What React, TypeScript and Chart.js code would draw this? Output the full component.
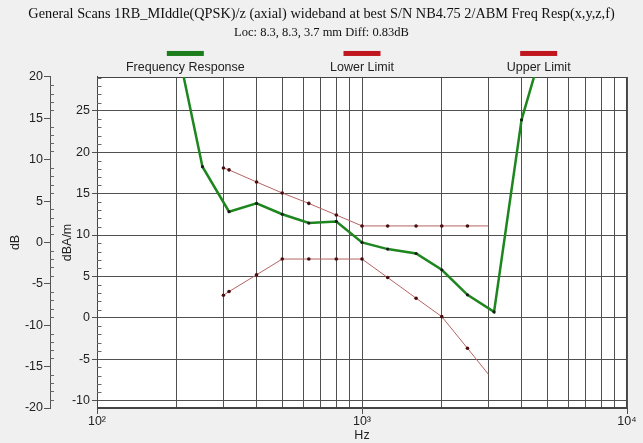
import React, { useEffect, useRef } from 'react';
import { Chart, registerables } from 'chart.js';

Chart.register(...registerables);

// ---------- text ----------
const TITLE = 'General Scans 1RB_MIddle(QPSK)/z (axial) wideband at best S/N NB4.75 2/ABM Freq Resp(x,y,z,f)';
const SUBTITLE = 'Loc: 8.3, 8.3, 3.7 mm Diff: 0.83dB';
const SERIES_LABELS = ['Frequency Response', 'Lower Limit', 'Upper Limit'];
const X_TITLE = 'Hz';
const Y_TITLE = 'dB';
const Y2_TITLE = 'dBA/m';

// ---------- data (dB vs Hz) ----------
const responseFreqs = [200, 250, 315, 400, 500, 630, 800, 1000, 1250, 1600, 2000, 2500, 3150, 4000, 5000];
const responseDb = [24, 9.16, 3.72, 4.72, 3.41, 2.35, 2.54, 0.0, -0.8, -1.33, -3.3, -6.33, -8.39, 14.82, 25.5];

const limitFreqs = [300, 315, 400, 500, 630, 800, 1000, 1250, 1600, 2000, 2500, 3000];
const lowerLimitDb = [-6.37, -5.93, -3.91, -2, -2, -2, -2, -4.24, -6.73, -8.96, -12.78, -15.93];
const upperLimitDb = [9.0, 8.77, 7.31, 5.98, 4.72, 3.32, 2, 2, 2, 2, 2, 2];

// ---------- axes ----------
const X_MIN = 100;
const X_MAX = 10000;
const X_GRID_VALUES = [100, 200, 300, 400, 500, 600, 700, 800, 900, 1000, 2000, 3000, 4000, 5000, 6000, 7000, 8000, 9000, 10000];
const X_TICK_LABELS: Record<number, string> = { 100: '10\u00B2', 1000: '10\u00B3', 10000: '10\u2074' };

const DB_MIN = -20;
const DB_MAX = 20;
const DB_TICKS = [-20, -15, -10, -5, 0, 5, 10, 15, 20];

const DBA_MIN = -10.9;
const DBA_MAX = 29.1;
const DBA_TICKS = [-10, -5, 0, 5, 10, 15, 20, 25];

// ---------- style ----------
const SANS = '"Liberation Sans", Arial, sans-serif';
const SERIF = '"Liberation Serif", "Times New Roman", serif';
const LEGEND_COLORS = ['#1b7d1b', '#c0161e', '#c0161e'];
const GRID = '#505050';
const TEXT = '#222222';

const bgPlugin = {
  id: 'bgPlugin',
  beforeDraw(chart: any) {
    const { ctx, chartArea, width, height } = chart;
    ctx.save();
    ctx.fillStyle = '#f0f0f0';
    ctx.fillRect(0, 0, width, height);
    ctx.fillStyle = '#ffffff';
    ctx.fillRect(chartArea.left, chartArea.top, chartArea.right - chartArea.left, chartArea.bottom - chartArea.top);
    ctx.restore();
  },
  beforeDatasetsDraw(chart: any) {
    const { ctx, chartArea } = chart;
    ctx.save();
    ctx.strokeStyle = '#444444';
    ctx.lineWidth = 1;
    ctx.strokeRect(
      Math.round(chartArea.left) + 0.5,
      Math.round(chartArea.top) + 0.5,
      Math.round(chartArea.right - chartArea.left) - 1,
      Math.round(chartArea.bottom - chartArea.top) - 1
    );
    // minor ticks
    ctx.strokeStyle = '#666666';
    const yOuter = chart.scales.y;
    const yInner = chart.scales.y2;
    ctx.beginPath();
    for (let v = Math.ceil(yOuter.min); v <= Math.floor(yOuter.max); v++) {
      if (v % 5 === 0) continue;
      const py = Math.round(yOuter.getPixelForValue(v)) + 0.5;
      ctx.moveTo(yOuter.right, py);
      ctx.lineTo(yOuter.right + 4, py);
    }
    for (let v = Math.ceil(yInner.min); v <= Math.floor(yInner.max); v++) {
      if (v % 5 === 0) continue;
      const py = Math.round(yInner.getPixelForValue(v)) + 0.5;
      ctx.moveTo(chartArea.left, py);
      ctx.lineTo(chartArea.left + 4.5, py);
    }
    ctx.stroke();
    ctx.restore();
  },
  afterDraw(chart: any) {
    const { ctx, chartArea } = chart;
    const n = chart.data.datasets.length;
    const w = (chartArea.right - chartArea.left) / n;
    ctx.save();
    ctx.font = `12.5px ${SANS}`;
    ctx.textAlign = 'center';
    ctx.textBaseline = 'middle';
    chart.data.datasets.forEach((ds: any, i: number) => {
      const cx = chartArea.left + w * (i + 0.5);
      ctx.fillStyle = LEGEND_COLORS[i];
      ctx.fillRect(cx - 18.5, chartArea.top - 26, 37, 5);
      ctx.fillStyle = TEXT;
      ctx.fillText(ds.label, cx, chartArea.top - 9);
    });
    ctx.restore();
  },
};

export default function App() {
  const canvasRef = useRef<HTMLCanvasElement | null>(null);

  useEffect(() => {
    if (!canvasRef.current) return;
    const tickFont = { family: SANS, size: 12.5 };
    const lastLimit = limitFreqs.length - 1;
    const chart = new Chart(canvasRef.current, {
      type: 'line',
      data: {
        datasets: [
          {
            label: SERIES_LABELS[0],
            data: responseFreqs.map((f, i) => ({ x: f, y: responseDb[i] })),
            xAxisID: 'x',
            yAxisID: 'y',
            borderColor: '#1e861e',
            borderWidth: 2.5,
            pointRadius: 1.6,
            pointBorderWidth: 0,
            pointBackgroundColor: '#1a1a1a',
            tension: 0,
            clip: 0,
          },
          {
            label: SERIES_LABELS[1],
            data: limitFreqs.map((f, i) => ({ x: f, y: lowerLimitDb[i] })),
            xAxisID: 'x',
            yAxisID: 'y',
            borderColor: '#b46464',
            borderWidth: 1,
            pointRadius: (c: any) => (c.dataIndex === lastLimit ? 0 : 1.8),
            pointBorderWidth: 0,
            pointBackgroundColor: '#4a0c0c',
            tension: 0,
            clip: 0,
          },
          {
            label: SERIES_LABELS[2],
            data: limitFreqs.map((f, i) => ({ x: f, y: upperLimitDb[i] })),
            xAxisID: 'x',
            yAxisID: 'y',
            borderColor: '#b46464',
            borderWidth: 1,
            pointRadius: (c: any) => (c.dataIndex === lastLimit ? 0 : 1.8),
            pointBorderWidth: 0,
            pointBackgroundColor: '#4a0c0c',
            tension: 0,
            clip: 0,
          },
        ],
      },
      options: {
        animation: false,
        responsive: false,
        devicePixelRatio: 1,
        layout: { padding: { left: 0, right: 0, top: 0, bottom: 0 } },
        plugins: {
          legend: { display: false },
          tooltip: { enabled: false },
          title: {
            display: true,
            text: TITLE,
            color: '#111111',
            font: { family: SERIF, size: 14.3, weight: 'normal' },
            padding: { top: 6, bottom: 0 },
          },
          subtitle: {
            display: true,
            text: SUBTITLE,
            color: '#111111',
            font: { family: SERIF, size: 12.5, weight: 'normal' },
            padding: { top: 2, bottom: 36.8 },
          },
        },
        scales: {
          x: {
            type: 'logarithmic',
            position: 'bottom',
            min: X_MIN,
            max: X_MAX,
            afterBuildTicks: (s: any) => {
              s.ticks = X_GRID_VALUES.map((v) => ({ value: v }));
            },
            afterFit: (s: any) => {
              s.height = 35;
            },
            ticks: {
              autoSkip: false,
              maxRotation: 0,
              padding: 0,
              color: TEXT,
              font: tickFont,
              callback: (v: any) => X_TICK_LABELS[Number(v)] ?? '',
            },
            grid: {
              color: GRID,
              lineWidth: 1,
              tickLength: 6,
              tickColor: (c: any) => (X_TICK_LABELS[c.tick?.value] ? GRID : 'rgba(0,0,0,0)'),
            },
            border: { display: true, color: '#444444' },
            title: { display: true, text: X_TITLE, color: TEXT, font: tickFont, padding: { top: 0, bottom: 0 } },
          },
          y: {
            type: 'linear',
            position: 'left',
            weight: 10,
            min: DB_MIN,
            max: DB_MAX,
            afterBuildTicks: (s: any) => {
              s.ticks = DB_TICKS.map((v) => ({ value: v }));
            },
            afterFit: (s: any) => {
              s.width = 50;
            },
            ticks: { padding: 1, color: TEXT, font: tickFont },
            grid: { drawOnChartArea: false, tickLength: 6, color: '#555555' },
            border: { display: true, color: '#555555' },
            title: { display: true, text: Y_TITLE, color: TEXT, font: tickFont, padding: { top: 8, bottom: 0 } },
          },
          y2: {
            type: 'linear',
            position: 'left',
            weight: 0,
            min: DBA_MIN,
            max: DBA_MAX,
            afterBuildTicks: (s: any) => {
              s.ticks = DBA_TICKS.map((v) => ({ value: v }));
            },
            afterFit: (s: any) => {
              s.width = 47;
            },
            ticks: { padding: 2, color: TEXT, font: tickFont },
            grid: { color: GRID, tickLength: 5, lineWidth: 1 },
            border: { display: true, color: '#444444' },
            title: { display: true, text: Y2_TITLE, color: TEXT, font: tickFont, padding: { top: 10, bottom: 0 } },
          },
          rightSpacer: {
            type: 'linear',
            position: 'right',
            display: true,
            afterFit: (s: any) => {
              s.width = 16;
            },
            ticks: { display: false },
            grid: { drawOnChartArea: false, drawTicks: false, display: false },
            border: { display: false },
            title: { display: false },
          },
        },
      } as any,
      plugins: [bgPlugin],
    });
    return () => chart.destroy();
  }, []);

  return (
    <div style={{ position: 'fixed', left: 0, top: 0, width: 643, height: 443, background: '#f0f0f0' }}>
      <canvas ref={canvasRef} width={643} height={443} style={{ display: 'block' }} />
    </div>
  );
}
